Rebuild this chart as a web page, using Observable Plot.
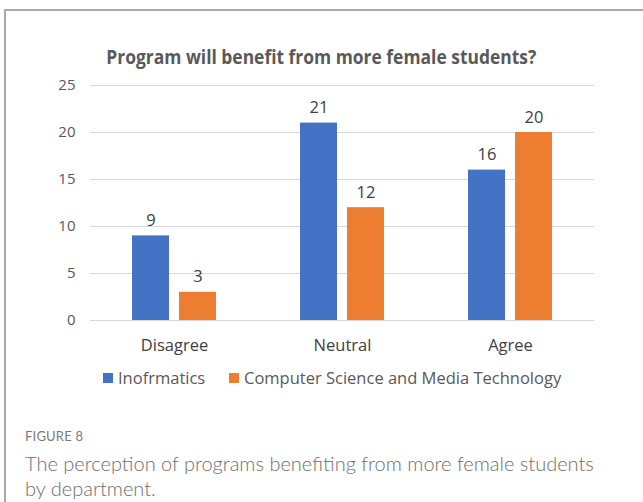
<!DOCTYPE html>
<html>
<head>
<meta charset="utf-8">
<script src="https://cdn.jsdelivr.net/npm/d3@7"></script>
<script src="https://cdn.jsdelivr.net/npm/@observablehq/plot@0.6"></script>
<style>
  html, body { margin: 0; padding: 0; background: #fff; }
  #page { position: relative; width: 643px; height: 502px; overflow: hidden; }
  #frame { position: absolute; left: 4px; top: 9px; right: -5px; bottom: -5px;
           border-left: 2px solid #a8a8a8; border-top: 2px solid #a8a8a8; }
  #chart { position: absolute; left: 0; top: 0; }
  #title { position: absolute; top: 44px; left: 0; width: 643px; text-align: center;
           font-family: "Open Sans", sans-serif; font-weight: 700; font-size: 19px; color: #595959;
           white-space: nowrap; line-height: 26px; }
  #title span { display: inline-block; transform-origin: center; }
  #legend { position: absolute; top: 367px; left: 0; width: 643px; height: 22px;
            font-family: "Open Sans", sans-serif; font-size: 16.5px; color: #595959; }
  .item { position: absolute; top: 0; line-height: 22px; white-space: nowrap; }
  .sw { position: absolute; top: 6px; width: 10px; height: 10px; }
  #fig { position: absolute; left: 25px; top: 428px; font-family: "Lato", sans-serif;
         font-size: 13px; color: #7a7a7a; letter-spacing: 0.2px; }
  #cap { position: absolute; left: 25px; top: 451px; width: 585px; font-family: "Lato", sans-serif;
         font-weight: 300; font-size: 20px; line-height: 25px; color: #6e6e6e; }
</style>
</head>
<body>
<div id="page">
  <div id="frame"></div>
  <div id="chart"></div>
  <div id="title"><span id="titleText"></span></div>
  <div id="legend"></div>
  <div id="fig"></div>
  <div id="cap"></div>
</div>
<script>
const titleText = "Program will benefit from more female students?";
const categories = ["Disagree", "Neutral", "Agree"];
const seriesNames = ["Inofrmatics", "Computer Science and Media Technology"];
const informaticsValues = [9, 21, 16];
const csmtValues = [3, 12, 20];
const yTicks = [0, 5, 10, 15, 20, 25];
const seriesColors = ["#4472C4", "#ED7D31"];
const figureLabel = "FIGURE 8";
const captionText = "The perception of programs benefiting from more female students by department.";

const data = categories.flatMap((c, i) => [
  {category: c, series: seriesNames[0], value: informaticsValues[i]},
  {category: c, series: seriesNames[1], value: csmtValues[i]}
]);

const chart = Plot.plot({
  width: 643,
  height: 360,
  marginTop: 85,
  marginBottom: 40,
  marginLeft: 89,
  marginRight: 48,
  style: {fontFamily: "Open Sans, sans-serif", fontSize: "15px", color: "#595959", background: "transparent", overflow: "visible"},
  fx: {domain: categories, padding: 0, label: null},
  x: {domain: seriesNames, paddingInner: 0.208, paddingOuter: 0.86, axis: null},
  y: {domain: [0, 25], label: null},
  color: {domain: seriesNames, range: seriesColors},
  marks: [
    Plot.ruleY(yTicks, {stroke: "#d9d9d9", strokeWidth: 1}),
    Plot.axisY({ticks: yTicks, tickSize: 0, tickPadding: 15, label: null, fontSize: 15, fill: "#595959"}),
    Plot.barY(data, {fx: "category", x: "series", y: "value", fill: "series"}),
    Plot.text(data, {fx: "category", x: "series", y: "value", text: "value", lineAnchor: "bottom", dy: -10, fill: "#404040", fontSize: 16.5}),
    Plot.axisFx({anchor: "bottom", tickSize: 0, tickPadding: 19, label: null, fontSize: 16.5, fill: "#404040"})
  ]
});
document.getElementById("chart").appendChild(chart);

// title
const tEl = document.getElementById("titleText");
tEl.textContent = titleText;
const tw = tEl.getBoundingClientRect().width;
tEl.style.transform = `scaleX(${430 / tw})`;

// legend
const legend = document.getElementById("legend");
const legendX = [103, 229];
seriesNames.forEach((name, i) => {
  const sw = document.createElement("div");
  sw.className = "sw";
  sw.style.left = legendX[i] + "px";
  sw.style.background = seriesColors[i];
  legend.appendChild(sw);
  const it = document.createElement("div");
  it.className = "item";
  it.style.left = (legendX[i] + 15) + "px";
  it.textContent = name;
  legend.appendChild(it);
});

document.getElementById("fig").textContent = figureLabel;
document.getElementById("cap").textContent = captionText;
</script>
</body>
</html>
